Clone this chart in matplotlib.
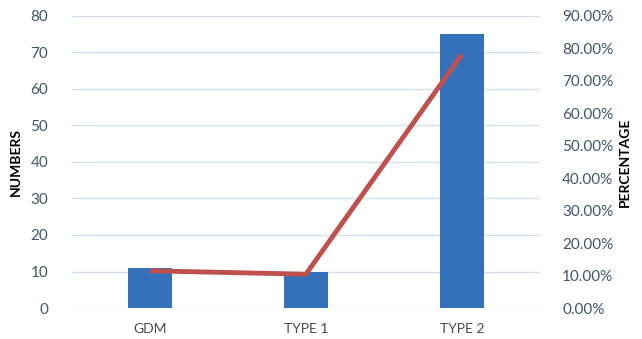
import matplotlib.pyplot as plt
from matplotlib.ticker import FuncFormatter

categories = ["GDM", "TYPE 1", "TYPE 2"]
numbers = [11, 10, 75]
percentage = [11.46, 10.42, 78.13]

plt.rcParams['font.family'] = ['Lato', 'DejaVu Sans']

fig = plt.figure(figsize=(6.42, 3.39), dpi=100)
ax = fig.add_axes([0.112, 0.0914, 0.729, 0.8616])
x = range(len(categories))

ax.bar(x, numbers, width=0.28, color="#3570bb", zorder=2)
ax.set_ylim(0, 80)
ax.set_yticks(range(0, 81, 10))
ax.set_xlim(-0.5, 2.5)
ax.set_xticks(list(x))
ax.set_xticklabels(categories)
ax.grid(axis="y", color="#d6dfec", linewidth=1, zorder=0)
for s in ax.spines.values():
    s.set_visible(False)
ax.tick_params(axis="both", length=0, labelsize=11, colors="#44546a")
ax.tick_params(axis="y", pad=17)
ax.tick_params(axis="x", pad=11, labelcolor="#4a4a4a", labelsize=10)
ax.set_ylabel("NUMBERS", fontweight="bold", fontsize=10, labelpad=6)

ax2 = ax.twinx()
ax2.plot(x, percentage, color="#c0504d", linewidth=3.5, solid_capstyle="butt", zorder=3)
ax2.set_ylim(0, 90)
ax2.set_yticks(range(0, 91, 10))
ax2.yaxis.set_major_formatter(FuncFormatter(lambda v, p: f"{v:.2f}%"))
for s in ax2.spines.values():
    s.set_visible(False)
ax2.tick_params(axis="y", length=0, labelsize=11, colors="#44546a", pad=16)
ax2.set_ylabel("PERCENTAGE", fontweight="bold", fontsize=10, labelpad=4, rotation=90)

fig.savefig("out.png", dpi=100)
